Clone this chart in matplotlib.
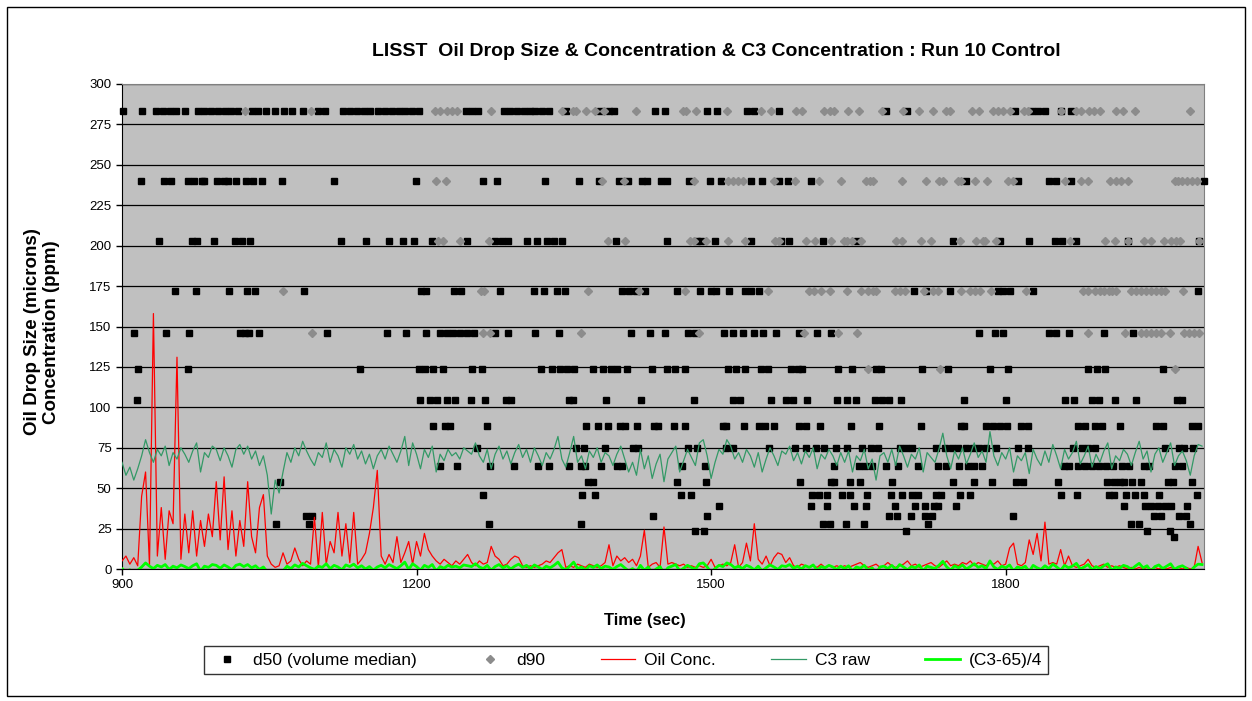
import numpy as np
import matplotlib.pyplot as plt
from matplotlib.lines import Line2D
from matplotlib.patches import Rectangle

plt.rcParams['font.family'] = ['Liberation Sans', 'DejaVu Sans']

# Line series, one sample every 4 s starting at 900 s
time_start = 900
time_step = 4

oil_conc = [
    5, 8, 3, 7, 2, 45, 60, 2, 158, 8,
    38, 6, 36, 28, 131, 6, 34, 10, 36, 8,
    30, 14, 34, 20, 54, 18, 57, 12, 36, 8,
    30, 14, 54, 20, 10, 38, 46, 8, 3, 1,
    2, 10, 3, 5, 13, 6, 2, 5, 3, 32,
    1, 35, 3, 17, 10, 35, 8, 28, 4, 35,
    3, 6, 10, 22, 38, 61, 8, 3, 9, 4,
    20, 4, 10, 17, 3, 17, 8, 22, 12, 8,
    5, 3, 6, 4, 2, 5, 3, 6, 9, 4,
    2, 5, 3, 4, 14, 8, 6, 2, 3, 6,
    8, 7, 2, 1, 2, 1, 2, 3, 5, 4,
    7, 10, 12, 1, 2, 1, 3, 2, 1, 3,
    2, 1, 2, 4, 15, 2, 8, 5, 7, 4,
    6, 2, 8, 24, 1, 3, 4, 1, 26, 3,
    4, 3, 2, 3, 1, 2, 1, 2, 1, 2,
    6, 1, 2, 3, 2, 4, 15, 1, 4, 16,
    5, 28, 6, 3, 8, 2, 7, 10, 9, 4,
    7, 2, 1, 3, 2, 1, 2, 1, 3, 1,
    2, 1, 2, 1, 2, 1, 2, 3, 4, 2,
    1, 2, 3, 1, 2, 4, 2, 1, 2, 3,
    5, 2, 3, 1, 2, 3, 4, 2, 1, 3,
    5, 2, 3, 2, 4, 3, 5, 2, 4, 3,
    2, 4, 3, 5, 2, 3, 13, 16, 3, 2,
    4, 18, 9, 22, 5, 29, 3, 4, 3, 12,
    2, 8, 2, 1, 2, 3, 6, 2, 1, 2,
    3, 1, 2, 1, 2, 1, 0, 1, 0, 1,
    0, 1, 0, 1, 0, 1, 0, 1, 0, 1,
    0, 1, 0, 1, 14, 4,
]

c3_raw = [
    66, 58, 63, 55, 62, 70, 80, 72, 66, 74,
    70, 76, 64, 72, 68, 75, 71, 66, 73, 78,
    60, 72, 69, 76, 74, 67, 75, 70, 63, 74,
    77, 71, 76, 68, 73, 64, 70, 58, 34, 55,
    47, 60, 72, 66, 75, 70, 79, 73, 68, 64,
    72, 69, 78, 66, 74, 70, 63, 75, 71, 77,
    68, 73, 65, 71, 62, 70, 74, 68, 76, 71,
    66, 73, 82, 64, 78, 71, 62, 74, 69, 76,
    60, 71, 67, 74, 70, 72, 68, 75, 73, 71,
    78, 70, 66, 74, 62, 71, 76, 68, 73, 65,
    72, 77, 69, 74, 66, 75, 70, 64, 72, 68,
    74, 82, 68, 63, 72, 82, 66, 70, 62, 73,
    69, 75, 66, 72, 70, 64, 71, 76, 68, 60,
    66, 58, 74, 62, 70, 56, 65, 71, 54, 68,
    72, 76, 60, 67, 74, 69, 64, 78, 80, 70,
    56, 66, 74, 71, 80, 76, 68, 72, 66, 74,
    70, 63, 72, 60, 68, 75, 70, 64, 73, 71,
    76, 67, 72, 65, 73, 69, 75, 62, 71, 68,
    74, 70, 64, 72, 66, 73, 60, 70, 67, 74,
    62, 68, 55, 70, 72, 66, 74, 64, 76, 70,
    63, 71, 68, 75, 60, 72, 69, 66, 74, 84,
    70, 62, 73, 68, 75, 65, 71, 78, 69, 73,
    66, 85, 70, 64, 72, 68, 75, 60, 70, 67,
    72, 59, 74, 68, 64, 73, 66, 77, 70, 62,
    74, 68, 72, 79, 65, 70, 76, 63, 71, 66,
    73, 78, 62, 70, 67, 74, 71, 64, 72, 79,
    68, 73, 60, 71, 75, 66, 72, 78, 64, 70,
    73, 67, 58, 70, 77, 76,
]

# LISST size classes (microns) and the times (s) each statistic fell in them
size_bins = [283.0, 239.8, 203.1, 172.1, 145.8, 123.5, 104.6, 88.6, 75.1,
             63.6, 53.9, 45.7, 38.7, 32.8, 27.8, 23.5, 19.9]

d50_times = [
    [901, 920, 935, 942, 949, 955, 964, 977, 984, 991, 998, 1005, 1011, 1018,
     1032, 1039, 1047, 1056, 1065, 1073, 1084, 1100, 1107, 1125, 1132, 1139,
     1146, 1153, 1161, 1168, 1175, 1182, 1188, 1195, 1202, 1250, 1256, 1263,
     1289, 1295, 1302, 1309, 1316, 1321, 1328, 1335, 1352, 1387, 1396, 1401,
     1443, 1453, 1496, 1506, 1537, 1544, 1569, 1678, 1700, 1809, 1827, 1833,
     1840, 1856, 1867],
    [919, 943, 950, 967, 973, 981, 984, 997, 1004, 1008, 1016, 1026, 1033,
     1043, 1063, 1116, 1199, 1268, 1282, 1331, 1365, 1386, 1406, 1415, 1430,
     1435, 1449, 1455, 1477, 1499, 1510, 1541, 1552, 1569, 1578, 1602, 1760,
     1813, 1844, 1851, 1867, 2002],
    [938, 971, 976, 994, 1015, 1022, 1030, 1123, 1149, 1172, 1186, 1197, 1216,
     1251, 1280, 1287, 1293, 1312, 1323, 1333, 1340, 1348, 1403, 1455, 1486,
     1490, 1504, 1541, 1571, 1579, 1614, 1649, 1746, 1794, 1824, 1850, 1857,
     1872, 1925, 1997],
    [954, 975, 1009, 1027, 1035, 1085, 1205, 1210, 1238, 1245, 1285, 1320,
     1330, 1343, 1351, 1409, 1416, 1423, 1433, 1465, 1489, 1500, 1505, 1518,
     1535, 1541, 1549, 1707, 1719, 1743, 1792, 1797, 1804, 1828, 1996],
    [912, 945, 968, 1020, 1025, 1029, 1040, 1109, 1170, 1189, 1210, 1224,
     1231, 1237, 1244, 1251, 1258, 1280, 1293, 1321, 1345, 1418, 1438, 1453,
     1476, 1484, 1513, 1522, 1532, 1544, 1553, 1566, 1590, 1608, 1622, 1773,
     1789, 1797, 1844, 1851, 1864, 1900, 1930],
    [916, 967, 1142, 1202, 1209, 1217, 1227, 1256, 1267, 1327, 1338, 1346,
     1353, 1360, 1380, 1390, 1398, 1404, 1414, 1440, 1455, 1463, 1473, 1517,
     1525, 1535, 1551, 1558, 1581, 1588, 1593, 1629, 1644, 1668, 1673, 1715,
     1741, 1784, 1802, 1884, 1893, 1901, 1960],
    [915, 1203, 1214, 1221, 1231, 1239, 1255, 1270, 1291, 1296, 1355, 1359,
     1393, 1429, 1483, 1522, 1529, 1561, 1576, 1583, 1598, 1628, 1638, 1648,
     1667, 1674, 1681, 1693, 1758, 1800, 1860, 1870, 1888, 1895, 1911, 1933,
     1974, 1980],
    [1217, 1229, 1234, 1272, 1373, 1385, 1395, 1407, 1412, 1425, 1442, 1446,
     1462, 1473, 1512, 1515, 1534, 1549, 1555, 1564, 1590, 1597, 1611, 1642,
     1671, 1714, 1755, 1758, 1780, 1787, 1794, 1801, 1816, 1823, 1874, 1881,
     1891, 1898, 1916, 1953, 1960, 1990, 1996],
    [1262, 1362, 1371, 1392, 1420, 1426, 1476, 1486, 1515, 1522, 1559, 1585,
     1597, 1607, 1615, 1627, 1638, 1654, 1663, 1670, 1692, 1699, 1705, 1729,
     1738, 1745, 1751, 1760, 1767, 1773, 1780, 1790, 1813, 1823, 1869, 1878,
     1884, 1891, 1962, 1977, 1982, 1991],
    [1224, 1241, 1275, 1299, 1324, 1335, 1355, 1367, 1372, 1388, 1404, 1409,
     1470, 1494, 1625, 1651, 1657, 1664, 1678, 1690, 1711, 1731, 1739, 1752,
     1762, 1768, 1776, 1859, 1864, 1874, 1881, 1888, 1895, 1902, 1909, 1918,
     1926, 1941, 1946, 1972, 1980],
    [1061, 1375, 1380, 1465, 1495, 1591, 1622, 1625, 1641, 1652, 1684, 1746,
     1768, 1786, 1811, 1818, 1853, 1903, 1910, 1916, 1921, 1929, 1938, 1965,
     1970, 1990],
    [1268, 1369, 1382, 1469, 1480, 1603, 1610, 1618, 1633, 1641, 1659, 1683,
     1694, 1705, 1711, 1729, 1734, 1753, 1764, 1856, 1873, 1905, 1910, 1923,
     1932, 1941, 1956, 1995],
    [1508, 1602, 1618, 1646, 1658, 1687, 1708, 1718, 1727, 1731, 1749, 1921,
     1942, 1948, 1955, 1962, 1968, 1985],
    [1087, 1094, 1441, 1496, 1681, 1689, 1704, 1718, 1725, 1807, 1951, 1958,
     1977, 1984],
    [1057, 1090, 1274, 1367, 1614, 1621, 1637, 1656, 1721, 1928, 1936, 1988],
    [1484, 1493, 1698, 1944, 1967],
    [1971],
]

d90_times = [
    [1025, 1093, 1219, 1224, 1231, 1236, 1241, 1276, 1348, 1359, 1362, 1373,
     1382, 1391, 1423, 1471, 1474, 1485, 1516, 1551, 1561, 1586, 1593, 1615,
     1621, 1625, 1639, 1651, 1674, 1695, 1712, 1726, 1739, 1743, 1766, 1773,
     1787, 1792, 1797, 1804, 1819, 1823, 1856, 1872, 1877, 1885, 1890, 1896,
     1912, 1919, 1932, 1988],
    [1220, 1230, 1389, 1411, 1483, 1517, 1522, 1527, 1532, 1564, 1585, 1610,
     1632, 1658, 1662, 1665, 1694, 1719, 1732, 1736, 1751, 1755, 1769, 1781,
     1802, 1807, 1860, 1877, 1884, 1906, 1912, 1917, 1925, 1972, 1976, 1980,
     1985, 1990, 1995],
    [1222, 1227, 1244, 1274, 1395, 1412, 1478, 1483, 1495, 1517, 1535, 1565,
     1569, 1597, 1606, 1622, 1635, 1638, 1644, 1653, 1688, 1694, 1714, 1724,
     1753, 1770, 1777, 1779, 1790, 1866, 1901, 1911, 1925, 1941, 1948, 1961,
     1968, 1973, 1978, 1997],
    [1064, 1266, 1269, 1375, 1427, 1473, 1558, 1600, 1605, 1612, 1621, 1638,
     1653, 1660, 1665, 1668, 1687, 1692, 1697, 1717, 1726, 1731, 1755, 1764,
     1769, 1774, 1785, 1821, 1879, 1884, 1891, 1896, 1900, 1905, 1908, 1912,
     1928, 1933, 1938, 1943, 1948, 1953, 1958, 1962, 1981],
    [1094, 1268, 1275, 1367, 1488, 1595, 1629, 1649, 1884, 1922, 1938, 1943,
     1948, 1953, 1958, 1967, 1982, 1987, 1992, 1997],
    [1660, 1733, 1972],
]


def bin_points(times_per_bin):
    xs, ys = [], []
    for size, times in zip(size_bins, times_per_bin):
        xs.extend(times)
        ys.extend([size] * len(times))
    return np.array(xs), np.array(ys)


t = time_start + time_step * np.arange(len(oil_conc))
c3_scaled = (np.array(c3_raw, dtype=float) - 65) / 4
d50_x, d50_y = bin_points(d50_times)
d90_x, d90_y = bin_points(d90_times)

W, H = 1252, 701
fig = plt.figure(figsize=(W / 100, H / 100), dpi=100)
fig.patch.set_facecolor('white')
fig.patches.append(Rectangle((7 / W, 5 / H), 1 - 14 / W, 1 - 12 / H,
                             transform=fig.transFigure, fill=False,
                             edgecolor='black', linewidth=1))

left, right, top, bottom = 122, 1204, 84, 569
ax = fig.add_axes([left / W, 1 - bottom / H, (right - left) / W, (bottom - top) / H])
ax.set_facecolor('#C0C0C0')
for s in ax.spines.values():
    s.set_color('#808080')
ax.spines['left'].set_color('black')
ax.spines['bottom'].set_color('black')

ax.plot(d50_x, d50_y, linestyle='none', marker='s', ms=5, color='black',
        clip_on=False, zorder=3)
ax.plot(d90_x, d90_y, linestyle='none', marker='D', ms=4.2, color='#8C8C8C',
        mec='#8C8C8C', clip_on=False, zorder=4)
ax.plot(t, oil_conc, color='#FF0000', lw=0.9, zorder=5)
ax.plot(t, c3_raw, color='#339966', lw=0.9, zorder=6)
ax.plot(t, c3_scaled, color='#00FF00', lw=2.0, zorder=7)

ax.set_xlim(900, 2002)
ax.set_ylim(0, 300)
ax.set_xticks([900, 1200, 1500, 1800])
ax.set_yticks(np.arange(0, 301, 25))
ax.yaxis.grid(True, color='black', lw=0.9)
ax.set_axisbelow(True)
ax.tick_params(direction='out', length=4, labelsize=9.5, width=1)

fig.text(716 / W, 1 - 52 / H,
         'LISST  Oil Drop Size & Concentration & C3 Concentration : Run 10 Control',
         ha='center', va='center', fontsize=14, fontweight='bold')
fig.text(33 / W, 1 - 332 / H, 'Oil Drop Size (microns)', rotation=90,
         ha='center', va='center', fontsize=13.5, fontweight='bold')
fig.text(52 / W, 1 - 332 / H, 'Concentration (ppm)', rotation=90,
         ha='center', va='center', fontsize=13.5, fontweight='bold')
fig.text(645 / W, 1 - 620 / H, 'Time (sec)', ha='center', va='center',
         fontsize=12, fontweight='bold')

handles = [
    Line2D([], [], linestyle='none', marker='s', ms=5, color='black'),
    Line2D([], [], linestyle='none', marker='D', ms=4.2, color='#8C8C8C'),
    Line2D([], [], color='#FF0000', lw=0.9),
    Line2D([], [], color='#339966', lw=0.9),
    Line2D([], [], color='#00FF00', lw=2.0),
]
labels = ['d50 (volume median)', 'd90', 'Oil Conc.', 'C3 raw', '(C3-65)/4']
leg = fig.legend(handles, labels, loc='center', bbox_to_anchor=(626 / W, 1 - 660 / H),
                 ncol=5, fontsize=12.5, frameon=True, fancybox=False,
                 edgecolor='black', handlelength=2.0, handletextpad=0.5,
                 columnspacing=3.2, borderpad=0.35, numpoints=1)
leg.get_frame().set_linewidth(1)

fig.savefig('out.png', dpi=100)
